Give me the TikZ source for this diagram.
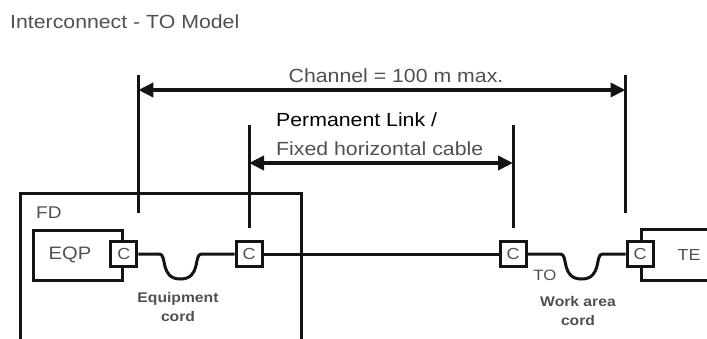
\documentclass[tikz,border=0pt]{standalone}
\usepackage{fontspec}
\setmainfont{Liberation Sans}[FakeStretch=1.12]
\usetikzlibrary{positioning,arrows.meta,calc}
\definecolor{tGray}{RGB}{80,80,80}
\definecolor{tLine}{RGB}{20,20,20}
\tikzset{
  conn/.style={rectangle, draw=tLine, fill=white, line width=3pt,
               minimum width=26pt, minimum height=25pt, inner sep=0pt,
               font=\fontsize{16}{16}\selectfont, text=tGray},
  dev/.style={rectangle, draw=tLine, line width=2.8pt, inner sep=0pt},
  dim/.style={{Triangle[length=15pt,width=14pt]}-{Triangle[length=15pt,width=14pt]},
              draw=tLine, line width=3.6pt},
  tick/.style={draw=tLine, line width=3pt},
  cable/.style={draw=tLine, line width=3pt},
  lbl/.style={font=\fontsize{19}{22}\selectfont, text=tGray, inner sep=0pt},
  cordlbl/.style={font=\fontsize{14}{19}\selectfont\bfseries, text=tGray,
                  align=center, inner sep=0pt},
}
\newcommand{\Cord}[3]{% U-shaped patch cord {from}{to}{shift of the U}
  \coordinate (#1#2m) at ($(#1.east)!0.5!(#2.west)+(#3,0)$);
  \draw[cable] (#1.east) -- ($(#1#2m)+(-21,0)$)
     .. controls ($(#1#2m)+(-13,0)$) and ($(#1#2m)+(-21,25)$) .. ($(#1#2m)+(0,25)$)
     .. controls ($(#1#2m)+(21,25)$) and ($(#1#2m)+(13,0)$) .. ($(#1#2m)+(21,0)$)
     -- (#2.west);}

\begin{document}
\begin{tikzpicture}[x=1pt, y=-1pt]
  \useasboundingbox (0,0) rectangle (707,338);
  \node[lbl, anchor=west] (title) at (10,22) {Interconnect - TO Model};
  % floor distributor and devices
  \node[dev, minimum width=281pt, minimum height=170pt, anchor=north west] (fd) at (19,192) {};
  \node[lbl, font=\fontsize{17}{17}\selectfont, anchor=west] (fdl) at (36,213) {FD};
  \node[dev, minimum width=89pt, minimum height=50pt, anchor=north west] (eqp) at (32,229) {};
  \node[lbl, font=\fontsize{18}{18}\selectfont] (eqpl) at (70,255) {EQP};
  \node[dev, minimum width=98pt, minimum height=51pt, anchor=north west] (te) at (640,228) {};
  \node[lbl, font=\fontsize{16}{16}\selectfont] (tel) at (689,255) {TE};
  % connectors
  \draw[cable] (249,254) -- (513,254);
  \node[conn] (c1) at (eqp.east |- 0,254) {C};
  \node[conn] (c2) at (249,254) {C};
  \node[conn] (c3) at (513,254) {C};
  \node[conn] (c4) at (te.west |- 0,254) {C};
  \Cord{c1}{c2}{-6}
  \Cord{c3}{c4}{5}
  \node[lbl, font=\fontsize{15}{15}\selectfont] (to) at (545,275) {TO};
  \node[cordlbl] (eqc) at (178,307) {Equipment\\cord};
  \node[cordlbl] (wac) at (578,311) {Work area\\cord};
  % dimension lines
  \coordinate (chy) at (0,90);
  \coordinate (cht) at (0,75);
  \coordinate (ply) at (0,163);
  \coordinate (plt) at (0,125);
  \draw[tick] (c1.east |- cht) -- ($(c1.north east)+(0,-27)$);
  \draw[tick] (c4.west |- cht) -- ($(c4.north west)+(0,-27)$);
  \draw[tick] (c2 |- plt) -- ($(c2.north)+(0,-12)$);
  \draw[tick] (c3 |- plt) -- ($(c3.north)+(0,-12)$);
  \draw[dim] (c1.east |- chy) -- (c4.west |- chy);
  \draw[dim] (c2 |- ply) -- (c3 |- ply);
  \node[lbl] (chl) at (396,76) {Channel = 100 m max.};
  \node[lbl, text=black, anchor=west] (pl1) at (276,120) {Permanent Link /};
  \node[lbl, anchor=west] (pl2) at (276,149) {Fixed horizontal cable};
\end{tikzpicture}
\end{document}
